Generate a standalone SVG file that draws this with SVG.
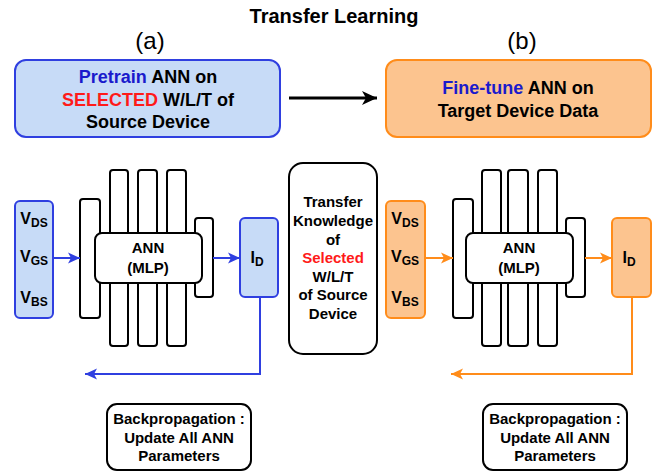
<svg xmlns="http://www.w3.org/2000/svg" width="668" height="473" viewBox="0 0 668 473">
<style>
text{font-family:"Liberation Sans",Arial,sans-serif;font-weight:bold;fill:#000;text-anchor:middle}
.big{font-size:18px}
.mid{font-size:15px}
.sub{font-size:12px}
.lbl{font-size:16px}
.layer{fill:#fff;stroke:#000;stroke-width:2}
.blue{fill:#c7dbf7;stroke:#2f3fe0;stroke-width:2}
.orange{fill:#fcc48f;stroke:#ff8c1a;stroke-width:2}
.plain{fill:#fff;stroke:#000;stroke-width:2}
.cb{stroke:#2f3fe0;stroke-width:2;fill:none}
.co{stroke:#ff8c1a;stroke-width:2;fill:none}
.ck{stroke:#000;stroke-width:3;fill:none}
.tb{fill:#1a1acc}
.tr{fill:#ff1a1a}
</style>
<defs>
<marker id="mb" markerUnits="userSpaceOnUse" markerWidth="14" markerHeight="14" refX="12" refY="7" orient="auto">
<path d="M0,1.5 L12,7 L0,12.5 L3,7 Z" fill="#2f3fe0"/>
</marker>
<marker id="mo" markerUnits="userSpaceOnUse" markerWidth="14" markerHeight="14" refX="12" refY="7" orient="auto">
<path d="M0,1.5 L12,7 L0,12.5 L3,7 Z" fill="#ff8c1a"/>
</marker>
<marker id="mk" markerUnits="userSpaceOnUse" markerWidth="18" markerHeight="18" refX="15" refY="9" orient="auto">
<path d="M0,2 L15,9 L0,16 L4,9 Z" fill="#000"/>
</marker>
</defs>

<text x="334" y="23" style="font-size:20px">Transfer Learning</text>
<text x="150" y="49" style="font-size:24px;font-weight:normal">(a)</text>
<text x="522" y="49" style="font-size:24px;font-weight:normal">(b)</text>

<g id="pretrain">
<rect class="blue" x="15" y="60" width="265" height="77" rx="11"/>
<text class="big" x="148" y="83"><tspan class="tb">Pretrain</tspan> ANN on</text>
<text class="big" x="148" y="106"><tspan class="tr">SELECTED</tspan> W/L/T of</text>
<text class="big" x="148" y="128">Source Device</text>
</g>

<g id="finetune">
<rect class="orange" x="386" y="60" width="265" height="77" rx="11"/>
<text class="big" x="518" y="94"><tspan class="tb">Fine-tune</tspan> ANN on</text>
<text class="big" x="518" y="117">Target Device Data</text>
</g>

<g id="inputs-a">
<rect class="blue" x="15" y="201" width="38" height="117" rx="5"/>
<text class="lbl" x="34" y="224">V<tspan class="sub" dy="3">DS</tspan></text>
<text class="lbl" x="34" y="262">V<tspan class="sub" dy="3">GS</tspan></text>
<text class="lbl" x="34" y="303">V<tspan class="sub" dy="3">BS</tspan></text>
</g>

<g id="ann-a">
<rect class="layer" x="80" y="199" width="20" height="119" rx="3"/>
<rect class="layer" x="110" y="170" width="18" height="176" rx="3"/>
<rect class="layer" x="138" y="170" width="19" height="176" rx="3"/>
<rect class="layer" x="167" y="170" width="19" height="176" rx="3"/>
<rect class="layer" x="195" y="218" width="18" height="79" rx="3"/>
<rect class="plain" x="95" y="233" width="107" height="50" rx="7"/>
<text class="mid" x="148" y="253">ANN</text>
<text class="mid" x="148" y="273">(MLP)</text>
</g>

<g id="output-a">
<rect class="blue" x="240" y="218" width="38" height="79" rx="5"/>
<text class="lbl" x="257" y="263">I<tspan class="sub" dy="3">D</tspan></text>
</g>

<g id="backprop-a">
<rect class="plain" x="107" y="404" width="144" height="66" rx="10"/>
<text class="mid" x="179" y="424">Backpropagation :</text>
<text class="mid" x="179" y="443">Update All ANN</text>
<text class="mid" x="179" y="461">Parameters</text>
</g>

<g id="transfer">
<rect class="plain" x="289" y="163" width="88" height="191" rx="14"/>
<text class="mid" x="333" y="207">Transfer</text>
<text class="mid" x="333" y="226">Knowledge</text>
<text class="mid" x="333" y="245">of</text>
<text class="mid tr" x="333" y="263">Selected</text>
<text class="mid" x="333" y="282">W/L/T</text>
<text class="mid" x="333" y="300">of Source</text>
<text class="mid" x="333" y="319">Device</text>
</g>

<g id="inputs-b">
<rect class="orange" x="386" y="201" width="39" height="117" rx="5"/>
<text class="lbl" x="405" y="224">V<tspan class="sub" dy="3">DS</tspan></text>
<text class="lbl" x="405" y="262">V<tspan class="sub" dy="3">GS</tspan></text>
<text class="lbl" x="405" y="303">V<tspan class="sub" dy="3">BS</tspan></text>
</g>

<g id="ann-b">
<rect class="layer" x="453" y="199" width="20" height="119" rx="3"/>
<rect class="layer" x="482" y="170" width="19" height="176" rx="3"/>
<rect class="layer" x="508" y="170" width="20" height="176" rx="3"/>
<rect class="layer" x="538" y="170" width="19" height="176" rx="3"/>
<rect class="layer" x="566" y="218" width="19" height="79" rx="3"/>
<rect class="plain" x="466" y="233" width="107" height="50" rx="7"/>
<text class="mid" x="519" y="253">ANN</text>
<text class="mid" x="519" y="273">(MLP)</text>
</g>

<g id="output-b">
<rect class="orange" x="612" y="218" width="39" height="79" rx="5"/>
<text class="lbl" x="629" y="263">I<tspan class="sub" dy="3">D</tspan></text>
</g>

<g id="backprop-b">
<rect class="plain" x="483" y="404" width="144" height="66" rx="10"/>
<text class="mid" x="555" y="424">Backpropagation :</text>
<text class="mid" x="555" y="443">Update All ANN</text>
<text class="mid" x="555" y="461">Parameters</text>
</g>

<g id="connectors">
<line class="ck" x1="289" y1="98" x2="377" y2="98" marker-end="url(#mk)"/>
<line class="cb" x1="53" y1="258" x2="80" y2="258" marker-end="url(#mb)"/>
<line class="cb" x1="213" y1="258" x2="240" y2="258" marker-end="url(#mb)"/>
<polyline class="cb" points="260,297 260,374 85,374" marker-end="url(#mb)"/>
<line class="co" x1="425" y1="258" x2="453" y2="258" marker-end="url(#mo)"/>
<line class="co" x1="585" y1="258" x2="612" y2="258" marker-end="url(#mo)"/>
<polyline class="co" points="632,297 632,374 451,374" marker-end="url(#mo)"/>
</g>
</svg>
